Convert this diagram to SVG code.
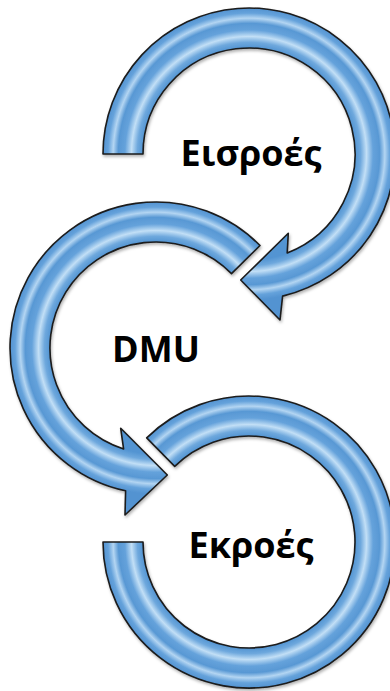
<svg xmlns="http://www.w3.org/2000/svg" xmlns:xlink="http://www.w3.org/1999/xlink" width="390" height="691" viewBox="0 0 390 691">
<style>
.arrow{stroke:#1b1b1b;stroke-width:1.6;stroke-linejoin:round;filter:url(#sh);}
.lbl{font-family:"Open Sans","Noto Sans","DejaVu Sans",sans-serif;font-weight:700;font-size:36px;fill:#000;text-anchor:middle;}
</style>
<defs>
<radialGradient id="g0" gradientUnits="userSpaceOnUse" cx="0" cy="0" r="146">
<stop offset="0" stop-color="#5b9bd5"/>
<stop offset="0.726" stop-color="#5294d2"/>
<stop offset="0.765" stop-color="#6ea8dd"/>
<stop offset="0.805" stop-color="#c2dff6"/>
<stop offset="0.85" stop-color="#65a2db"/>
<stop offset="0.895" stop-color="#5898d4"/>
<stop offset="0.93" stop-color="#b3d5f2"/>
<stop offset="0.965" stop-color="#65a2db"/>
<stop offset="1" stop-color="#5393d1"/>
</radialGradient>
<radialGradient id="g1" href="#g0" xlink:href="#g0" cx="249" cy="154" r="146"/>
<radialGradient id="g2" href="#g0" xlink:href="#g0" cx="156" cy="348" r="146"/>
<radialGradient id="g3" href="#g0" xlink:href="#g0" cx="249" cy="542" r="146"/>
<filter id="sh" x="-10%" y="-10%" width="120%" height="120%">
<feDropShadow dx="1" dy="2" stdDeviation="1.5" flood-color="#000" flood-opacity="0.3"/>
</filter>
</defs>
<rect width="390" height="691" fill="#ffffff"/>
<g id="connectors">
<path id="arrow1" class="arrow" fill="url(#g1)" d="M103,154 A146,146 0 1 1 282.6,296.1 L280,320 L240.7,280 L288.3,233.3 L287.2,252.9 A106,106 0 1 0 143,154 Z"/>
<path id="arrow2" class="arrow" fill="url(#g2)" d="M260,245.5 A146,146 0 1 0 125.6,490.8 L125,515 L167.3,475 L120.7,428.3 L123.6,448.9 A106,106 0 1 1 231.5,273.6 Z"/>
<path id="arrow3" class="arrow" fill="url(#g3)" d="M146.7,437.9 A146,146 0 1 1 103,542 L143,542 A106,106 0 1 0 174.7,466.4 Z"/>
</g>
<g id="node-inputs"><text class="lbl" x="251" y="166">Εισροές</text></g>
<g id="node-dmu"><text class="lbl" x="156" y="362">DMU</text></g>
<g id="node-outputs"><text class="lbl" x="251" y="558">Εκροές</text></g>
</svg>
